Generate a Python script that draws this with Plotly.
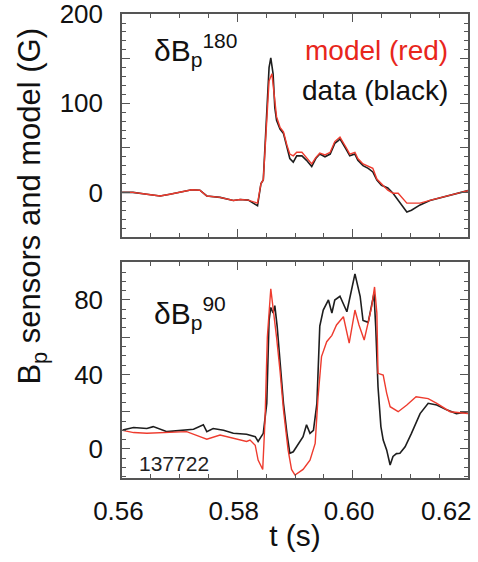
import plotly.graph_objects as go

# ---- data ----
top_black_t = [0.5600, 0.5619, 0.5643, 0.5666, 0.5683, 0.5704, 0.5721, 0.5735, 0.5747, 0.5770,
               0.5793, 0.5805, 0.5819, 0.5835, 0.5841, 0.5845, 0.5848, 0.5852, 0.5855, 0.5858,
               0.5862, 0.5865, 0.5868, 0.5874, 0.5880, 0.5886, 0.5891, 0.5897, 0.5903, 0.5912,
               0.5920, 0.5929, 0.5936, 0.5943, 0.5952, 0.5961, 0.5969, 0.5975, 0.5978, 0.5990,
               0.5995, 0.6004, 0.6009, 0.6018, 0.6027, 0.6035, 0.6042, 0.6050, 0.6061, 0.6070,
               0.6079, 0.6094, 0.6102, 0.6117, 0.6134, 0.6157, 0.6180, 0.6200]
top_black_v = [0, 0, -2, -4, -2, 0.7, 3, 2.5, -4, -5.6,
               -9, -8, -8.6, -15, 10, 14, 51, 95, 140, 151,
               133, 95, 81, 71, 66, 51, 38, 34, 41, 41,
               36, 29, 38, 43, 40, 43, 55, 58, 60, 47,
               41, 43, 36, 30, 27, 23, 14, 8, 5, -1,
               -9, -22, -20, -14, -9, -5, -1, 2]

top_red_t = [0.5600, 0.5619, 0.5643, 0.5666, 0.5683, 0.5704, 0.5721, 0.5735, 0.5747, 0.5770,
             0.5793, 0.5805, 0.5819, 0.5835, 0.5841, 0.5845, 0.5848, 0.5852, 0.5855, 0.5860,
             0.5862, 0.5865, 0.5868, 0.5874, 0.5880, 0.5886, 0.5891, 0.5897, 0.5903, 0.5912,
             0.5920, 0.5929, 0.5936, 0.5943, 0.5952, 0.5961, 0.5969, 0.5975, 0.5978, 0.5990,
             0.5995, 0.6004, 0.6009, 0.6018, 0.6027, 0.6035, 0.6042, 0.6050, 0.6061, 0.6070,
             0.6079, 0.6094, 0.6102, 0.6117, 0.6134, 0.6157, 0.6180, 0.6200]
top_red_v = [0, 0, -2, -4, -2, 0.7, 3, 2.5, -4, -5.6,
             -9, -8, -8.6, -12, 10, 14, 51, 95, 125, 133,
             122, 100, 85, 73, 68, 53, 43, 41, 45, 45,
             39, 32, 39, 44, 42, 45, 57, 61, 62, 49,
             43, 45, 38, 32, 29, 27, 15, 10, 2.5, -1,
             -1, -12, -12, -12, -9, -5, -1, 2]

bot_black_t = [0.5601, 0.5620, 0.5643, 0.5654, 0.5678, 0.5701, 0.5724, 0.5741, 0.5747, 0.5758,
               0.5776, 0.5793, 0.5816, 0.5831, 0.5836, 0.5845, 0.5851, 0.5855, 0.5858, 0.5862,
               0.5865, 0.5869, 0.5874, 0.5880, 0.5886, 0.5891, 0.5897, 0.5906, 0.5914, 0.5920,
               0.5926, 0.5932, 0.5938, 0.5943, 0.5949, 0.5958, 0.5964, 0.5969, 0.5978, 0.5990,
               0.5998, 0.6004, 0.6013, 0.6018, 0.6027, 0.6033, 0.6037, 0.6040, 0.6044, 0.6049,
               0.6053, 0.6059, 0.6065, 0.6070, 0.6076, 0.6082, 0.6091, 0.6102, 0.6117, 0.6131,
               0.6146, 0.6163, 0.6180, 0.6201]
bot_black_v = [10.2, 11.5, 11, 12, 9.3, 10, 10.6, 13, 9.3, 11,
               10, 8.4, 7.9, 6.6, 4, 8.4, 24.5, 69, 76, 73,
               77, 66, 46, 24.5, 8.4, -2.3, -1.5, 3, 6.6, 13,
               8.4, 10, 24.5, 66, 74.6, 80, 73, 80, 82, 73.7,
               85, 94, 82, 69, 68, 78, 83.6, 65.7, 33.4, 12,
               4.8, -0.5, -8.6, -4, -2.5, -2.3, 1.2, 8.4, 19, 24.5,
               23.6, 21, 19, 20]

bot_red_t = [0.5601, 0.5620, 0.5643, 0.5678, 0.5712, 0.5735, 0.5747, 0.5770, 0.5793, 0.5816,
             0.5822, 0.5831, 0.5836, 0.5844, 0.5848, 0.5852, 0.5858, 0.5862, 0.5868, 0.5874,
             0.5880, 0.5888, 0.5894, 0.5900, 0.5914, 0.5926, 0.5935, 0.5940, 0.5946, 0.5955,
             0.5964, 0.5972, 0.5984, 0.5994, 0.6004, 0.6011, 0.6020, 0.6027, 0.6033, 0.6038,
             0.6042, 0.6044, 0.6053, 0.6059, 0.6065, 0.6079, 0.6094, 0.6110, 0.6131, 0.6146,
             0.6169, 0.6201]
bot_red_v = [10, 8.8, 8.4, 8.8, 9.3, 6.6, 5.2, 7.5, 5.7, 4,
             4.8, 2, -6, -11, 15.6, 60, 86, 76, 60, 42,
             21, -0.5, -11, -14, -11, -6, 3, 28, 49.6, 57.6,
             61, 66.6, 71, 56.8, 74.6, 66.6, 58.5, 68, 76.4, 87,
             73, 40.6, 39.7, 30, 22.7, 20, 23.6, 28, 27, 24.5,
             20, 19]

NB = "\u00a0"
x_tickvals = [0.56, 0.58, 0.60, 0.62]
x_ticktext = ["0.56" + NB, "0.58" + NB, "0.60" + NB, "0.62" + NB * 6]
top_tickvals = [-50, 0, 50, 100, 150, 200]
top_ticktext = ["", "0", "", "100", "", "200"]
bot_tickvals = [0, 20, 40, 60, 80]
bot_ticktext = ["0", "", "40", "", "80"]

BLACK = "#1e1e1e"
RED = "#ee3b2e"
FONT = "Liberation Sans, Arial, sans-serif"

fig = go.Figure()
fig.add_trace(go.Scatter(x=top_black_t, y=top_black_v, mode="lines",
                         line=dict(color=BLACK, width=1.6), xaxis="x", yaxis="y"))
fig.add_trace(go.Scatter(x=top_red_t, y=top_red_v, mode="lines",
                         line=dict(color=RED, width=1.4), xaxis="x", yaxis="y"))
fig.add_trace(go.Scatter(x=bot_black_t, y=bot_black_v, mode="lines",
                         line=dict(color=BLACK, width=1.6), xaxis="x2", yaxis="y2"))
fig.add_trace(go.Scatter(x=bot_red_t, y=bot_red_v, mode="lines",
                         line=dict(color=RED, width=1.4), xaxis="x2", yaxis="y2"))

axis_common = dict(showline=True, linecolor="#555", linewidth=1.5, mirror="allticks",
                   ticks="inside", ticklen=8, tickwidth=1.2, tickcolor="#555",
                   showgrid=False, zeroline=False, ticklabeloverflow="allow", automargin=False,
                   tickfont=dict(family=FONT, size=26, color="#111"))
minor_x = dict(dtick=0.005, ticks="inside", ticklen=4, tickwidth=1, tickcolor="#555", showgrid=False)

fig.update_layout(
    width=478, height=562,
    margin=dict(l=122, r=10, t=14, b=84, autoexpand=False),
    paper_bgcolor="white", plot_bgcolor="white",
    showlegend=False,
    xaxis=dict(domain=[0, 1], anchor="y", range=[0.55999, 0.62001], tickvals=x_tickvals,
               ticktext=x_ticktext, showticklabels=False, minor=minor_x, **axis_common),
    xaxis2=dict(domain=[0, 1], anchor="y2", range=[0.55999, 0.62001], tickvals=x_tickvals,
                ticktext=x_ticktext, minor=minor_x, ticklabelstandoff=9,
                title=dict(text="t (s)", font=dict(family=FONT, size=30, color="#111"), standoff=0),
                **axis_common),
    yaxis=dict(domain=[0.5194, 1], anchor="x", range=[-50, 200.1], tickvals=top_tickvals,
               ticktext=top_ticktext, ticklabelstandoff=12,
               minor=dict(dtick=10, ticks="inside", ticklen=4, tickwidth=1, tickcolor="#555", showgrid=False),
               **axis_common),
    yaxis2=dict(domain=[0, 0.4655], anchor="x2", range=[-15.6, 100.4], tickvals=bot_tickvals,
                ticktext=bot_ticktext, ticklabelstandoff=12,
                minor=dict(dtick=5, ticks="inside", ticklen=4, tickwidth=1, tickcolor="#555", showgrid=False),
                **axis_common),
)

ann_font = dict(family=FONT, size=30, color="#111")
fig.add_annotation(text="B<sub>p</sub> sensors and model (G)", xref="paper", yref="paper",
                   x=-0.26, y=0.585, textangle=-90, showarrow=False,
                   xanchor="center", yanchor="middle", font=dict(family=FONT, size=31, color="#111"))
fig.add_annotation(text="δB<sub>p</sub><sup>180</sup>", xref="paper", yref="paper",
                   x=0.087, y=0.922, showarrow=False, xanchor="left", yanchor="middle", font=ann_font)
fig.add_annotation(text="model (red)", xref="paper", yref="paper",
                   x=0.948, y=0.922, showarrow=False, xanchor="right", yanchor="middle",
                   font=dict(family=FONT, size=28, color="#e8261c"))
fig.add_annotation(text="data (black)", xref="paper", yref="paper",
                   x=0.948, y=0.836, showarrow=False, xanchor="right", yanchor="middle",
                   font=dict(family=FONT, size=28, color="#111"))
fig.add_annotation(text="δB<sub>p</sub><sup>90</sup>", xref="paper", yref="paper",
                   x=0.087, y=0.356, showarrow=False, xanchor="left", yanchor="middle", font=ann_font)
fig.add_annotation(text="137722", xref="paper", yref="paper",
                   x=0.043, y=0.032, showarrow=False, xanchor="left", yanchor="middle",
                   font=dict(family=FONT, size=21, color="#222"))

fig.write_html("out.html", config={"displayModeBar": False},
               post_script="document.body.style.margin='0';")
